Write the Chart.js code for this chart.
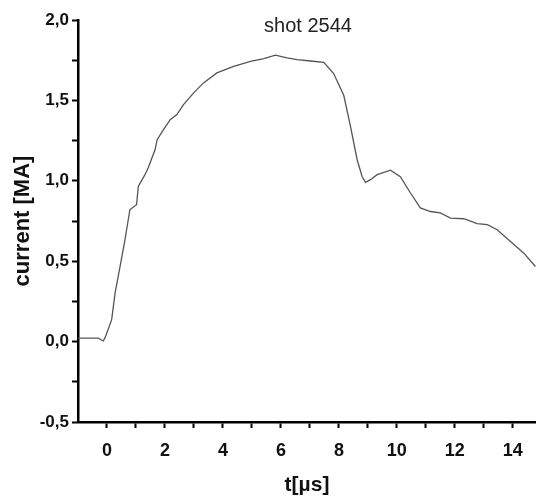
<!DOCTYPE html>
<html>
<head>
<meta charset="utf-8">
<script src="https://cdn.jsdelivr.net/npm/chart.js@4/dist/chart.umd.min.js"></script>
<style>
  body { margin: 0; background: #fff; }
  #wrap { width: 536px; height: 498px; }
</style>
</head>
<body>
<div id="wrap"><canvas id="line-chart"></canvas></div>
<script>
// time in microseconds, current in MA
let times = [-1.0, -0.30, -0.13, -0.07, 0.16, 0.28, 0.45, 0.62, 0.79, 0.91, 1.02, 1.08, 1.31, 1.42, 1.66,
    1.73, 1.95, 2.18, 2.41, 2.64, 2.99, 3.33, 3.79, 4.37, 4.95, 5.41, 5.81, 6.21, 6.56, 7.02, 7.48,
    7.82, 8.17, 8.40, 8.63, 8.80, 8.92, 9.09, 9.32, 9.78, 10.12, 10.47, 10.81, 11.16, 11.50, 11.85,
    12.31, 12.77, 13.12, 13.46, 13.92, 14.38, 14.78];
let current = [0.021, 0.021, 0.004, 0.023, 0.135, 0.303, 0.467, 0.633, 0.820, 0.837, 0.851, 0.965, 1.038, 1.080, 1.194,
    1.256, 1.318, 1.380, 1.412, 1.474, 1.547, 1.609, 1.671, 1.712, 1.743, 1.760, 1.781, 1.765, 1.754, 1.745, 1.737,
    1.667, 1.530, 1.339, 1.131, 1.027, 0.990, 1.007, 1.038, 1.066, 1.026, 0.924, 0.831, 0.809, 0.800, 0.768,
    0.764, 0.733, 0.727, 0.696, 0.623, 0.550, 0.467];

// tick positions (minor ones get no label)
let xTicks = [0, 1, 2, 3, 4, 5, 6, 7, 8, 9, 10, 11, 12, 13, 14];
let xLabels = [0, 2, 4, 6, 8, 10, 12, 14];
let yLabels = [-0.5, 0, 0.5, 1, 1.5, 2];

let title = 'shot 2544';

const fontFam = '"Liberation Sans", Arial, sans-serif';

// title sits inside the plot, so draw it ourselves
const innerTitle = {
    id: 'innerTitle',
    afterDraw(chart) {
        let ctx = chart.ctx;
        let area = chart.chartArea;
        ctx.save();
        ctx.font = '20px ' + fontFam;
        ctx.fillStyle = '#222';
        ctx.textAlign = 'center';
        ctx.textBaseline = 'middle';
        ctx.fillText(title, (area.left + area.right) / 2 + 1, area.top + 6);
        ctx.restore();
    }
};

const data = {
    datasets: [{
        data: times.map((t, i) => ({ x: t, y: current[i] })),
        borderColor: '#555',
        borderWidth: 1.3,
        pointRadius: 0,
        tension: 0,
        fill: false
    }]
};

let config = {
    type: 'line',
    data: data,
    plugins: [innerTitle],
    options: {
        responsive: true,
        maintainAspectRatio: false,
        animation: false,
        layout: { padding: { top: 20, right: 0, bottom: 0, left: 0 } },
        plugins: { legend: { display: false }, tooltip: { enabled: false } },
        scales: {
            x: {
                type: 'linear',
                min: -1,
                max: 14.8,
                afterBuildTicks: (s) => { s.ticks = xTicks.map(v => ({ value: v })); },
                afterFit: (s) => { s.height = 76; },
                border: { color: '#000', width: 2.5 },
                grid: {
                    drawOnChartArea: false,
                    drawTicks: true,
                    tickLength: 6,
                    tickWidth: 2,
                    tickColor: '#000'
                },
                ticks: {
                    autoSkip: false,
                    maxRotation: 0,
                    padding: 12,
                    color: '#111',
                    font: { family: fontFam, size: 18, weight: 'bold' },
                    callback: (v) => xLabels.includes(v) ? String(v) : ''
                },
                title: {
                    display: true,
                    text: 't[µs]',
                    color: '#111',
                    font: { family: fontFam, size: 21, weight: 'bold' },
                    padding: { top: 0, bottom: 0 }
                }
            },
            y: {
                min: -0.5,
                max: 2.0,
                afterFit: (s) => { s.width = 78; },
                border: { color: '#000', width: 2.5 },
                grid: {
                    drawOnChartArea: false,
                    drawTicks: true,
                    tickLength: 6,
                    tickWidth: 2,
                    tickColor: '#000'
                },
                ticks: {
                    stepSize: 0.25,
                    autoSkip: false,
                    padding: 3,
                    color: '#111',
                    font: { family: fontFam, size: 17, weight: 'bold' },
                    callback: (v) => yLabels.includes(v) ? v.toFixed(1).replace('.', ',') : ''
                },
                title: {
                    display: true,
                    text: 'current [MA]',
                    color: '#111',
                    font: { family: fontFam, size: 22, weight: 'bold' },
                    padding: { top: 10, bottom: 0 }
                }
            }
        }
    }
};

new Chart(document.getElementById('line-chart'), config);
</script>
</body>
</html>
